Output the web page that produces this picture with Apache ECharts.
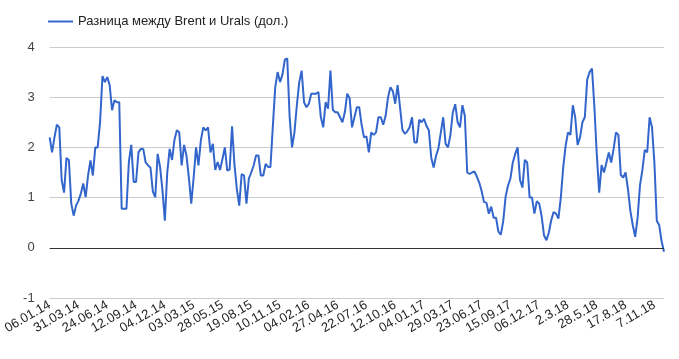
<!DOCTYPE html>
<html>
<head>
<meta charset="utf-8">
<script src="https://cdn.jsdelivr.net/npm/echarts@6/dist/echarts.min.js"></script>
<style>html,body{margin:0;padding:0;background:#fff}#c{width:679px;height:359px}</style>
</head>
<body>
<div id="c"></div>
<script>
// Tick labels (one every 12 weekly points)
var tickLabels = ['06.01.14','31.03.14','24.06.14','12.09.14','04.12.14','03.03.15','28.05.15','19.08.15','10.11.15','04.02.16','27.04.16','22.07.16','12.10.16','04.01.17','29.03.17','23.06.17','15.09.17','06.12.17','2.3.18','28.5.18','17.8.18','7.11.18'];
var pointsPerTick = 12;
var seriesName = 'Разница между Brent и Urals (дол.)';
// Spread Brent - Urals, USD
var spread = [
2.2,1.9,2.2,2.45,2.4,1.35,1.1,1.79,1.75,0.88,
0.64,0.84,0.94,1.08,1.28,1.01,1.44,1.74,1.44,2.0,
2.0,2.5,3.42,3.3,3.4,3.24,2.74,2.94,2.9,2.9,
0.78,0.78,0.78,1.71,2.05,1.31,1.31,1.9,1.97,1.97,
1.7,1.64,1.6,1.12,1.01,1.87,1.61,1.15,0.54,1.5,
1.97,1.75,2.15,2.34,2.3,1.64,2.05,1.84,1.4,0.88,
1.4,2.0,1.64,2.14,2.4,2.34,2.4,1.9,2.07,1.55,
1.71,1.55,1.77,2.0,1.54,1.56,2.42,1.66,1.17,0.84,
1.47,1.44,0.88,1.38,1.5,1.64,1.84,1.84,1.44,1.44,
1.67,1.61,1.61,2.42,3.2,3.5,3.3,3.45,3.75,3.77,
2.6,2.0,2.3,2.84,3.3,3.53,2.9,2.8,2.87,3.07,
3.07,3.07,3.1,2.6,2.4,2.9,2.77,3.53,2.75,2.7,
2.7,2.6,2.5,2.7,3.07,2.98,2.4,2.6,2.8,2.8,
2.45,2.2,2.22,1.9,2.3,2.25,2.3,2.6,2.6,2.45,
2.63,3.0,3.2,3.12,2.87,3.24,2.8,2.35,2.27,2.32,
2.4,2.6,2.1,2.1,2.55,2.5,2.57,2.43,2.34,1.8,
1.6,1.83,1.98,2.3,2.6,2.07,2.0,2.25,2.7,2.86,
2.5,2.4,2.84,2.63,1.5,1.47,1.5,1.52,1.42,1.3,
1.13,0.91,0.9,0.68,0.82,0.6,0.6,0.32,0.26,0.53,
1.02,1.24,1.38,1.7,1.87,2.0,1.35,1.2,1.75,1.7,
1.0,1.0,0.68,0.93,0.88,0.63,0.25,0.15,0.3,0.55,
0.71,0.68,0.58,1.0,1.6,2.03,2.3,2.25,2.84,2.6,
2.05,2.2,2.5,2.6,3.35,3.5,3.57,2.8,1.85,1.1,
1.65,1.5,1.7,1.9,1.7,1.97,2.3,2.25,1.45,1.4,
1.5,1.16,0.73,0.45,0.22,0.6,1.25,1.55,1.95,1.9,
2.6,2.4,1.7,0.54,0.45,0.13,-0.08
];
var yTicks = {min: -1, max: 4, step: 1};

var data = spread.map(function (v, i) { return [i, v]; });
var chart = echarts.init(document.getElementById('c'), null, {renderer: 'canvas'});
chart.setOption({
  animation: false,
  textStyle: {fontFamily: '"Liberation Sans", Arial, sans-serif'},
  legend: {
    left: 43, top: 10,
    icon: 'rect', itemWidth: 25, itemHeight: 2, itemGap: 10,
    textStyle: {fontSize: 13, color: '#222', fontFamily: '"Liberation Sans", Arial, sans-serif'},
    data: [seriesName]
  },
  grid: {left: 48, right: 15, top: 47, bottom: 61, containLabel: false},
  xAxis: {
    type: 'value', min: 0, max: spread.length - 1, interval: pointsPerTick,
    axisLine: {show: false}, axisTick: {show: false}, splitLine: {show: false},
    axisLabel: {
      rotate: 30, fontSize: 13, color: '#222', margin: 6,
      fontFamily: '"Liberation Sans", Arial, sans-serif',
      showMaxLabel: false,
      formatter: function (v) {
        if (v % pointsPerTick !== 0) return '';
        var k = v / pointsPerTick;
        return tickLabels[k] || '';
      }
    }
  },
  yAxis: {
    type: 'value', min: yTicks.min, max: yTicks.max, interval: yTicks.step,
    axisLine: {show: false}, axisTick: {show: false},
    splitLine: {lineStyle: {color: '#cccccc', width: 1}},
    axisLabel: {fontSize: 13, color: '#444', margin: 15, fontFamily: '"Liberation Sans", Arial, sans-serif'}
  },
  series: [{
    name: seriesName, type: 'line', data: data,
    showSymbol: false, symbol: 'none',
    lineStyle: {color: '#3366cc', width: 2},
    itemStyle: {color: '#3366cc'},
    markLine: {
      silent: true, symbol: 'none', label: {show: false},
      lineStyle: {color: '#333333', width: 1, type: 'solid'},
      data: [{yAxis: 0}]
    },
    z: 3
  }]
});
</script>
</body>
</html>
